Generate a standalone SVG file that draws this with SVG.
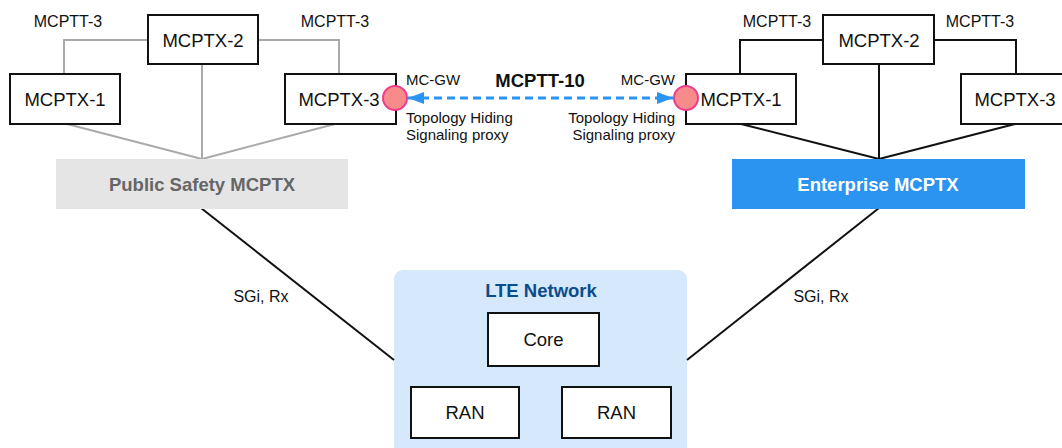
<svg xmlns="http://www.w3.org/2000/svg" width="1062" height="448" viewBox="0 0 1062 448">
  <style>
    text { font-family: "Liberation Sans", Arial, sans-serif; fill: #111; }
    .box { fill: #fff; stroke: #111; stroke-width: 2; }
    .lbl { font-size: 18.5px; text-anchor: middle; }
    .ref { font-size: 16px; text-anchor: middle; }
    .small { font-size: 15px; }
    .title { font-size: 18.5px; font-weight: bold; text-anchor: middle; }
    .gray { stroke: #aaa; stroke-width: 2; fill: none; }
    .blk { stroke: #111; stroke-width: 2; fill: none; }
    .gw { fill: #f78a8a; stroke: #ec3d8c; stroke-width: 2; }
  </style>
  <defs>
    <marker id="arrow" viewBox="0 0 16 12" refX="16" refY="6" markerWidth="16" markerHeight="12" markerUnits="userSpaceOnUse" orient="auto-start-reverse">
      <path d="M0,0 L16,6 L0,12 Z" fill="#2b93f0"/>
    </marker>
  </defs>

  <!-- LTE network container -->
  <g id="lte-network">
    <rect x="394" y="270" width="293" height="190" rx="9" fill="#d6e8fb"/>
    <text class="title" x="541" y="297" style="fill:#0b4c8c">LTE Network</text>
  </g>
  <g id="core">
    <rect class="box" x="488" y="313" width="111" height="53"/>
    <text class="lbl" x="543.5" y="346">Core</text>
  </g>
  <g id="ran-1">
    <rect class="box" x="411" y="387" width="108" height="51"/>
    <text class="lbl" x="465" y="419">RAN</text>
  </g>
  <g id="ran-2">
    <rect class="box" x="562" y="387" width="109" height="51"/>
    <text class="lbl" x="616.5" y="419">RAN</text>
  </g>

  <!-- connectors -->
  <g id="connectors">
    <!-- public safety cluster -->
    <polyline class="gray" points="148,40 64,40 64,74"/>
    <polyline class="gray" points="258,40 339,40 339,74"/>
    <line class="gray" x1="202" y1="64" x2="202" y2="159"/>
    <line class="gray" x1="67" y1="124" x2="202" y2="159"/>
    <line class="gray" x1="335" y1="124" x2="202" y2="159"/>
    <!-- enterprise cluster -->
    <polyline class="blk" points="823,40 740,40 740,74"/>
    <polyline class="blk" points="934,40 1016,40 1016,74"/>
    <line class="blk" x1="879" y1="64" x2="879" y2="159"/>
    <line class="blk" x1="741" y1="124" x2="879" y2="159"/>
    <line class="blk" x1="1015" y1="124" x2="879" y2="159"/>
    <!-- SGi, Rx links to LTE -->
    <line class="blk" x1="201" y1="208" x2="394" y2="360"/>
    <line class="blk" x1="879" y1="208" x2="687" y2="360"/>
    <!-- MCPTT-10 interworking link -->
    <line x1="408" y1="98" x2="673" y2="98" stroke="#2b93f0" stroke-width="3" stroke-dasharray="8,5" marker-start="url(#arrow)" marker-end="url(#arrow)"/>
  </g>

  <!-- connector labels -->
  <text class="ref" x="68" y="27">MCPTT-3</text>
  <text class="ref" x="335" y="27">MCPTT-3</text>
  <text class="ref" x="777" y="27">MCPTT-3</text>
  <text class="ref" x="980" y="27">MCPTT-3</text>
  <text class="ref" x="261" y="302">SGi, Rx</text>
  <text class="ref" x="821" y="302">SGi, Rx</text>
  <text class="title" x="540" y="87">MCPTT-10</text>

  <!-- public safety side -->
  <g id="ps-mcptx-2">
    <rect class="box" x="148" y="15" width="110" height="49"/>
    <text class="lbl" x="203" y="47">MCPTX-2</text>
  </g>
  <g id="ps-mcptx-1">
    <rect class="box" x="10" y="74" width="110" height="50"/>
    <text class="lbl" x="65" y="106">MCPTX-1</text>
  </g>
  <g id="ps-mcptx-3">
    <rect class="box" x="285" y="74" width="111" height="50"/>
    <text class="lbl" x="339" y="106">MCPTX-3</text>
  </g>
  <g id="public-safety">
    <rect x="56" y="159" width="292" height="50" fill="#e5e5e5"/>
    <text class="title" x="202" y="191" style="fill:#666">Public Safety MCPTX</text>
  </g>

  <!-- enterprise side -->
  <g id="ent-mcptx-2">
    <rect class="box" x="823" y="15" width="111" height="49"/>
    <text class="lbl" x="879" y="47">MCPTX-2</text>
  </g>
  <g id="ent-mcptx-1">
    <rect class="box" x="686" y="74" width="110" height="50"/>
    <text class="lbl" x="741" y="106">MCPTX-1</text>
  </g>
  <g id="ent-mcptx-3">
    <rect class="box" x="961" y="74" width="112" height="50"/>
    <text class="lbl" x="1015" y="106">MCPTX-3</text>
  </g>
  <g id="enterprise">
    <rect x="732" y="159" width="293" height="50" fill="#2b93f0"/>
    <text class="title" x="878" y="191" style="fill:#fff">Enterprise MCPTX</text>
  </g>

  <!-- gateways -->
  <g id="mc-gw-left">
    <circle class="gw" cx="395" cy="98" r="12"/>
    <text class="small" x="406" y="85">MC-GW</text>
    <text class="small" x="406" y="123">Topology Hiding</text>
    <text class="small" x="406" y="140">Signaling proxy</text>
  </g>
  <g id="mc-gw-right">
    <circle class="gw" cx="686" cy="98" r="12"/>
    <text class="small" x="675" y="85" text-anchor="end">MC-GW</text>
    <text class="small" x="675" y="123" text-anchor="end">Topology Hiding</text>
    <text class="small" x="675" y="140" text-anchor="end">Signaling proxy</text>
  </g>
</svg>
